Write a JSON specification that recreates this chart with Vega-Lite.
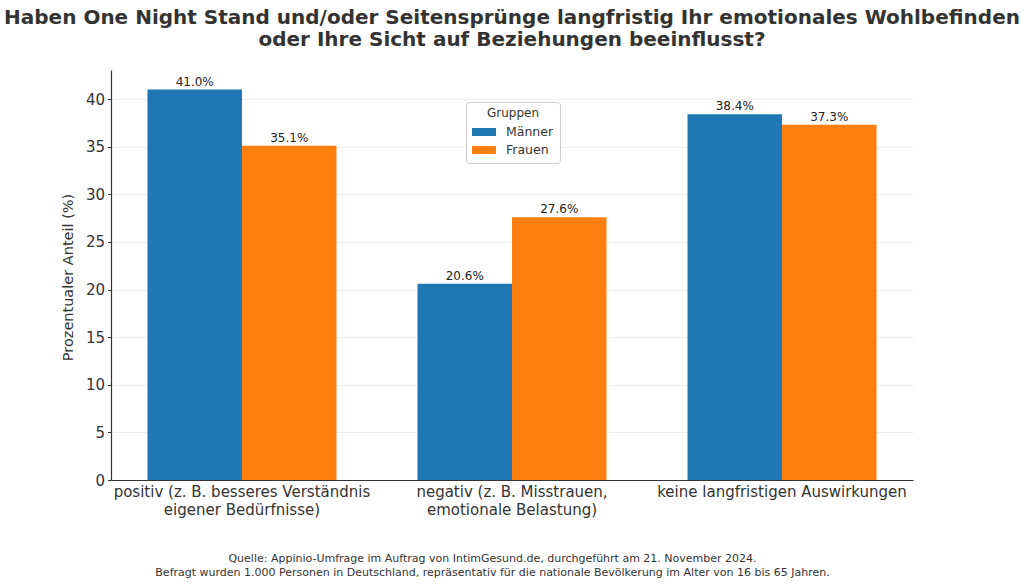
{
  "$schema": "https://vega.github.io/schema/vega-lite/v6.json",
  "width": 802,
  "height": 410,
  "autosize": {"type": "none"},
  "padding": {"left": 111, "top": 70, "right": 111, "bottom": 105},
  "background": "white",
  "config": {"font": "DejaVu Sans", "view": {"stroke": null}},
  "title": {
    "text": ["Haben One Night Stand und/oder Seitensprünge langfristig Ihr emotionales Wohlbefinden", "oder Ihre Sicht auf Beziehungen beeinflusst?"],
    "fontSize": 20,
    "fontWeight": "bold",
    "color": "#333333",
    "anchor": "middle",
    "lineHeight": 22,
    "offset": 20
  },
  "data": {
    "values": [
      {"cat": "positiv (z. B. besseres Verständnis\neigener Bedürfnisse)", "group": "Männer", "value": 41.0, "label": "41.0%"},
      {"cat": "positiv (z. B. besseres Verständnis\neigener Bedürfnisse)", "group": "Frauen", "value": 35.1, "label": "35.1%"},
      {"cat": "negativ (z. B. Misstrauen,\nemotionale Belastung)", "group": "Männer", "value": 20.6, "label": "20.6%"},
      {"cat": "negativ (z. B. Misstrauen,\nemotionale Belastung)", "group": "Frauen", "value": 27.6, "label": "27.6%"},
      {"cat": "keine langfristigen Auswirkungen", "group": "Männer", "value": 38.4, "label": "38.4%"},
      {"cat": "keine langfristigen Auswirkungen", "group": "Frauen", "value": 37.3, "label": "37.3%"}
    ]
  },
  "encoding": {
    "x": {
      "field": "cat",
      "type": "nominal",
      "sort": ["positiv (z. B. besseres Verständnis\neigener Bedürfnisse)", "negativ (z. B. Misstrauen,\nemotionale Belastung)", "keine langfristigen Auswirkungen"],
      "scale": {"paddingInner": 0.3, "paddingOuter": 0.135},
      "axis": {
        "labelExpr": "split(datum.label, '\\n')",
        "labelAngle": 0,
        "labelFontSize": 15,
        "labelColor": "#333333",
        "labelPadding": 4,
        "labelLineHeight": 18,
        "labelLimit": 0,
        "ticks": false,
        "domainColor": "#333333",
        "domainWidth": 1.2,
        "title": ["Quelle: Appinio-Umfrage im Auftrag von IntimGesund.de, durchgeführt am 21. November 2024.", "Befragt wurden 1.000 Personen in Deutschland, repräsentativ für die nationale Bevölkerung im Alter von 16 bis 65 Jahren."],
        "titleFontSize": 11,
        "titleFontWeight": "normal",
        "titleColor": "#333333",
        "titleLineHeight": 14,
        "titleX": 381,
        "titleY": 72,
        "titleAlign": "center",
        "titleBaseline": "top",
        "grid": false
      }
    },
    "xOffset": {"field": "group", "type": "nominal", "sort": ["Männer", "Frauen"], "scale": {"paddingInner": 0, "paddingOuter": 0}},
    "y": {
      "field": "value",
      "type": "quantitative",
      "scale": {"domain": [0, 43.05], "nice": false},
      "axis": {
        "values": [0, 5, 10, 15, 20, 25, 30, 35, 40],
        "labelFontSize": 15,
        "labelColor": "#333333",
        "labelPadding": 3,
        "tickSize": 3.5,
        "tickColor": "#333333",
        "domainColor": "#333333",
        "domainWidth": 1.2,
        "gridColor": "#eeeeee",
        "gridWidth": 1,
        "title": "Prozentualer Anteil (%)",
        "titleFontSize": 14.5,
        "titleFontWeight": "normal",
        "titleColor": "#333333",
        "titleX": -43,
        "titleY": 207,
        "titleAngle": -90,
        "titleAlign": "center",
        "titleBaseline": "middle"
      }
    }
  },
  "layer": [
    {
      "mark": {"type": "bar"},
      "encoding": {
        "color": {
          "field": "group",
          "type": "nominal",
          "scale": {"domain": ["Männer", "Frauen"], "range": ["#1f77b4", "#ff7f0e"]},
          "legend": {
            "title": "Gruppen",
            "orient": "none",
            "legendX": 355,
            "legendY": 32,
            "titleAnchor": "middle",
            "titleFontWeight": "normal",
            "titleFontSize": 12,
            "titleColor": "#333333",
            "labelFontSize": 12.5,
            "labelColor": "#333333",
            "symbolType": "M-1.5,-0.5L1.5,-0.5L1.5,0.5L-1.5,0.5Z",
            "symbolSize": 256,
            "symbolStrokeWidth": 0,
            "symbolOpacity": 1,
            "symbolOffset": 4,
            "strokeColor": "#cccccc",
            "fillColor": "white",
            "padding": 6,
            "cornerRadius": 3,
            "rowPadding": 3,
            "titlePadding": 4,
            "labelOffset": 14
          }
        }
      }
    },
    {
      "mark": {"type": "text", "baseline": "bottom", "dy": -1, "fontSize": 12, "color": "#222222"},
      "encoding": {"text": {"field": "label"}}
    }
  ]
}
